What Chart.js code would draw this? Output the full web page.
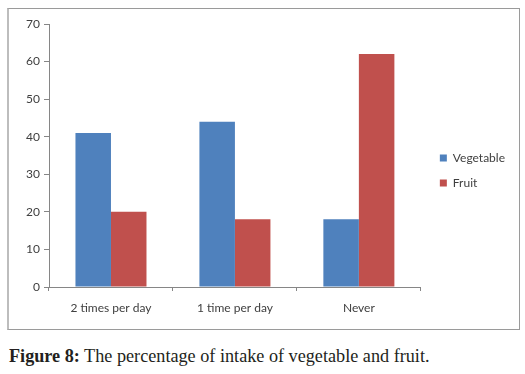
<!DOCTYPE html>
<html>
<head>
<meta charset="utf-8">
<script src="https://cdn.jsdelivr.net/npm/chart.js@4"></script>
<style>
  body { margin: 0; background: #fff; width: 525px; height: 374px; position: relative; overflow: hidden; }
  #box { position: absolute; left: 7px; top: 8px; width: 510px; height: 320px; border: 1px solid #9a9a9a; border-left: 2px solid #bdbdbd; }
  #caption { position: absolute; left: 9px; top: 346px; font-family: "Liberation Serif", serif; font-size: 18.2px; line-height: 20px; color: #231f20; white-space: nowrap; }
  #caption b { color: #231f20; }
</style>
</head>
<body>
<div id="box"><canvas id="myChart" width="510" height="320"></canvas></div>
<div id="caption"><b>Figure 8:</b> The percentage of intake of vegetable and fruit.</div>
<script>
// intake frequency categories
const categories = ['2 times per day', '1 time per day', 'Never'];
const vegetable = [41, 44, 18];
const fruit = [20, 18, 62];
const yTicks = [0, 10, 20, 30, 40, 50, 60, 70];

// nudge the legend a little, Excel puts it slightly higher
const legendNudge = {
    id: 'legendNudge',
    afterLayout(chart) {
        const lg = chart.legend;
        lg.top -= 6; lg.bottom -= 6;
        lg.left += 6; lg.right += 6;
    }
};

const ctx = document.getElementById('myChart');

new Chart(ctx, {
    type: 'bar',
    data: {
        labels: categories,
        datasets: [{
            label: 'Vegetable',
            data: vegetable,
            backgroundColor: '#4F81BD'
        }, {
            label: 'Fruit',
            data: fruit,
            backgroundColor: '#C0504D'
        }]
    },
    options: {
        responsive: false,
        animation: false,
        layout: { padding: { top: 15, right: 10, left: 0, bottom: 0 } },
        datasets: { bar: { categoryPercentage: 0.573, barPercentage: 1 } },
        plugins: {
            legend: {
                position: 'right',
                labels: {
                    boxWidth: 7, boxHeight: 7, padding: 13,
                    color: '#404040',
                    font: { family: 'Lato', size: 12 }
                }
            },
            tooltip: { enabled: false }
        },
        scales: {
            x: {
                grid: { drawOnChartArea: false, offset: true, tickLength: 4, color: '#868686' },
                border: { color: '#868686' },
                ticks: { color: '#404040', padding: 10, font: { family: 'Lato', size: 12 } },
                afterFit: s => { s.height = 42; }
            },
            y: {
                min: 0, max: 70,
                afterBuildTicks: s => { s.ticks = yTicks.map(v => ({ value: v })); },
                grid: { drawOnChartArea: false, tickLength: 5, color: '#868686' },
                border: { color: '#868686' },
                ticks: { color: '#404040', padding: 4, font: { family: 'Lato', size: 12 } },
                afterFit: s => { s.width = 40; }
            }
        }
    },
    plugins: [legendNudge]
});
</script>
</body>
</html>
